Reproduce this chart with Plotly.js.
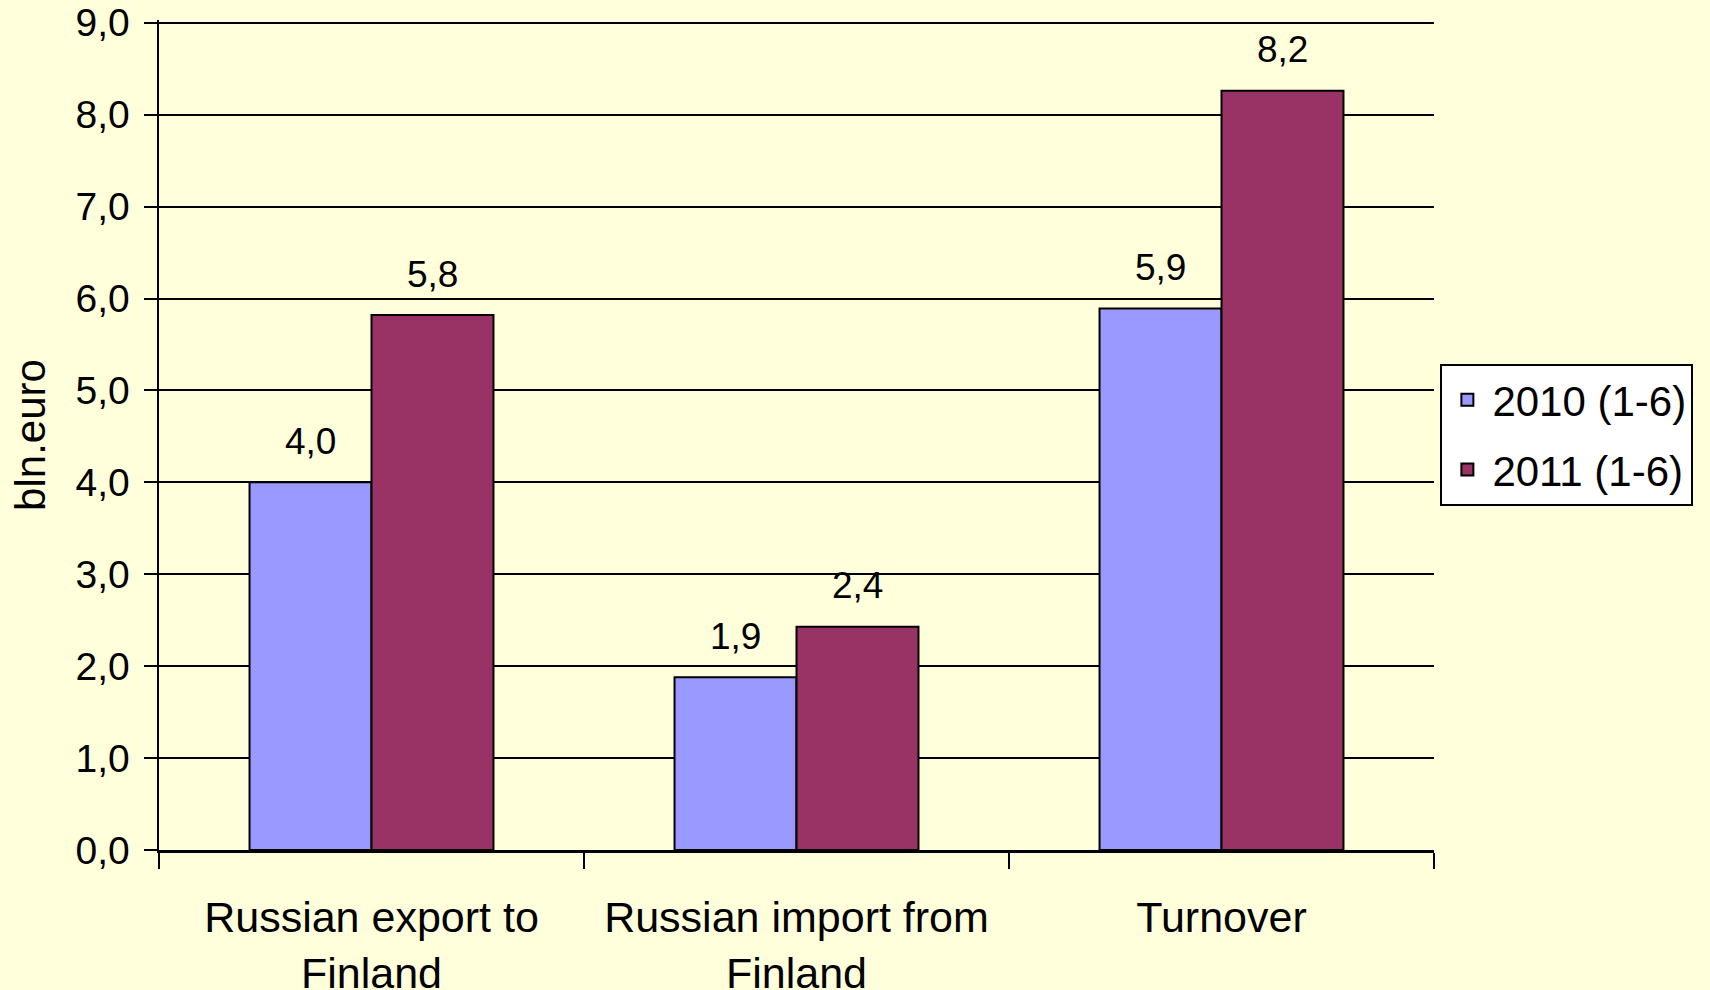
<!DOCTYPE html>
<html>
<head>
<meta charset="utf-8">
<script src="https://cdn.plot.ly/plotly-3.0.1.min.js"></script>
<style>
html,body{margin:0;padding:0;background:#FFFFDC;}
#chart{width:1710px;height:990px;}
</style>
</head>
<body>
<div id="chart"></div>
<script>
const categories = ["Russian export to<br>Finland", "Russian import from<br>Finland", "Turnover"];
const seriesNames = ["2010 (1-6)", "2011 (1-6)"];
const values2010 = [4.0, 1.88, 5.89];
const values2011 = [5.82, 2.43, 8.26];
const labels2010 = ["4,0", "1,9", "5,9"];
const labels2011 = ["5,8", "2,4", "8,2"];
const yTickValues = [0, 1, 2, 3, 4, 5, 6, 7, 8, 9];

const colors = ["#9999FF", "#993366"];
const font = "Liberation Sans, Arial, sans-serif";

const traces = [
  {type: "bar", name: seriesNames[0], legendgroup: "a", x: categories, y: values2010,
   marker: {color: colors[0], line: {color: "#000", width: 2}}, hoverinfo: "skip"},
  {type: "bar", name: seriesNames[1], legendgroup: "b", x: categories, y: values2011,
   marker: {color: colors[1], line: {color: "#000", width: 2}}, hoverinfo: "skip"}
];

const annotations = [];
const offsets = [-61, 61];
[[values2010, labels2010], [values2011, labels2011]].forEach(([vals, labs], s) => {
  vals.forEach((v, i) => {
    annotations.push({
      x: categories[i], y: v, xref: "x", yref: "y",
      text: labs[i], showarrow: false,
      xshift: offsets[s], yshift: 41, yanchor: "middle",
      font: {family: font, size: 37, color: "#000"}
    });
  });
});

const layout = {
  width: 1710, height: 990,
  paper_bgcolor: "#FFFFDC", plot_bgcolor: "#FFFFDC",
  margin: {l: 159, r: 276, t: 20, b: 140},
  separators: ",.",
  font: {family: font, color: "#000"},
  barmode: "group",
  bargap: 0.426,
  bargroupgap: 0,
  showlegend: true,
  legend: {
    x: 1.005, xanchor: "left", y: 0.5, yanchor: "middle",
    bgcolor: "#FFFFFF", bordercolor: "#000", borderwidth: 2,
    font: {family: font, size: 42, color: "#000"},
    traceorder: "grouped",
    tracegroupgap: 12,
    itemwidth: 40
  },
  xaxis: {
    type: "category",
    tickson: "boundaries",
    ticks: "outside", ticklen: 16, tickwidth: 2, tickcolor: "#000",
    ticklabelstandoff: 28,
    showline: true, linecolor: "#000", linewidth: 2.5,
    showgrid: false, zeroline: false,
    tickfont: {family: font, size: 43, color: "#000"},
    automargin: false
  },
  yaxis: {
    range: [0, 9.03],
    tickvals: yTickValues,
    tickformat: ".1f",
    ticks: "outside", ticklen: 13, tickwidth: 2, tickcolor: "#000",
    ticklabelstandoff: 6,
    showline: true, linecolor: "#000", linewidth: 2.5,
    showgrid: true, gridcolor: "#000", gridwidth: 2,
    zeroline: false,
    tickfont: {family: font, size: 39, color: "#000"},
    title: {text: "bln.euro", font: {family: font, size: 42, color: "#000"}, standoff: 17},
    automargin: false
  },
  annotations: annotations
};

Plotly.newPlot("chart", traces, layout, {displayModeBar: false, staticPlot: true});
</script>
</body>
</html>
